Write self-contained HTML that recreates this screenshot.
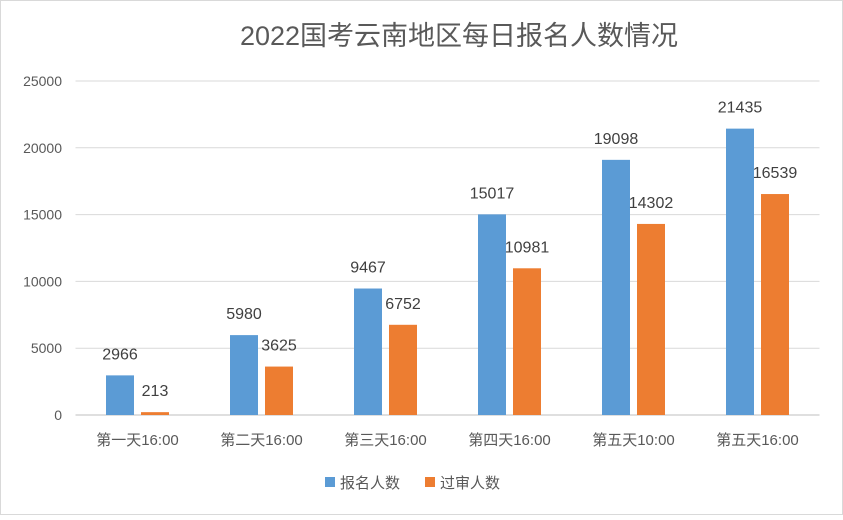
<!DOCTYPE html>
<html><head><meta charset="utf-8">
<style>
html,body{margin:0;padding:0;background:#fff;}
body{width:843px;height:515px;overflow:hidden;font-family:"Liberation Sans","Noto Sans CJK SC",sans-serif;}
</style></head>
<body>
<svg id="chart" width="843" height="515" xmlns="http://www.w3.org/2000/svg" font-family="Liberation Sans, Noto Sans CJK SC, sans-serif">
<rect x="0.5" y="0.5" width="842" height="514" fill="#fff" stroke="#d9d9d9"/>
<text x="459" y="45" text-anchor="middle" font-size="27" fill="#595959">2022国考云南地区每日报名人数情况</text>
<g id="grid"></g><g id="bars"></g><g id="labels"></g>
<g>
<rect x="325" y="477" width="10" height="10" fill="#5b9bd5"/>
<text x="340" y="488" font-size="15" fill="#595959">报名人数</text>
<rect x="425" y="477" width="10" height="10" fill="#ed7d31"/>
<text x="440" y="488" font-size="15" fill="#595959">过审人数</text>
</g>
</svg>
<script>
const categories=["第一天16:00","第二天16:00","第三天16:00","第四天16:00","第五天10:00","第五天16:00"];
const registered=[2966,5980,9467,15017,19098,21435];
const approved=[213,3625,6752,10981,14302,16539];
const yTicks=[0,5000,10000,15000,20000,25000];
const NS="http://www.w3.org/2000/svg";
const x0=75.5,band=124,y0=415,yTop=81,yMax=25000;
const y=v=>y0-(v/yMax)*(y0-yTop);
const xc=i=>x0+band*(i+0.5);
function mk(tag,attrs,parent,text){const e=document.createElementNS(NS,tag);for(const k in attrs)e.setAttribute(k,attrs[k]);if(text!==undefined)e.textContent=text;document.getElementById(parent).appendChild(e);return e;}
yTicks.forEach(t=>{
 const l=mk('line',{x1:x0,x2:x0+band*categories.length,y1:y(t),y2:y(t),stroke:t===0?'#bfbfbf':'#d9d9d9','stroke-width':1},'grid');
 
 
 const tx=mk('text',{x:62,y:y(t)+5,'text-anchor':'end','font-size':14,fill:'#595959'},'grid',String(t));
 
 
});
categories.forEach((c,i)=>{
 const tx=mk('text',{x:xc(i),y:445,'text-anchor':'middle','font-size':15,fill:'#595959'},'grid',c);
 
 
 [[registered,'#5b9bd5',-31,'registered'],[approved,'#ed7d31',4,'approved']].forEach(([arr,col,off,nm])=>{
  const v=arr[i];
  const r=mk('rect',{x:xc(i)+off-0.5,y:y(v),width:28,height:y0-y(v),fill:col},'bars');
  
  
  const lb=mk('text',{x:xc(i)+off+13.5,y:y(v)-16,'text-anchor':'middle','font-size':16,fill:'#404040'},'labels',String(v));
  
  
 });
});
</script>
</body></html>
